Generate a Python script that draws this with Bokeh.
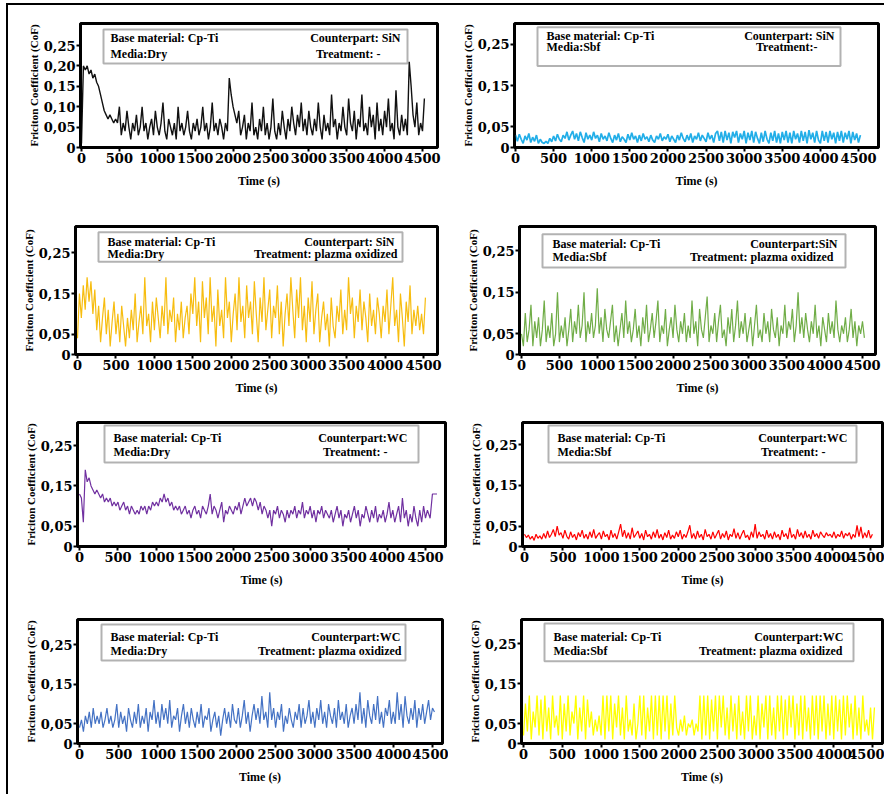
from bokeh.plotting import figure
from bokeh.layouts import column, row
from bokeh.models import FixedTicker, Range1d, BoxAnnotation, Label
from bokeh.embed import file_html
from bokeh.resources import INLINE

# ---------------- data ----------------
TIME_S = list(range(0, 4526, 25))  # sampling times (s), 182 samples

X_TICKS = [0, 500, 1000, 1500, 2000, 2500, 3000, 3500, 4000, 4500]
Y_TICKS_FULL = [0, 0.05, 0.10, 0.15, 0.20, 0.25]
Y_LABELS_FULL = ["0", "0,05", "0,10", "0,15", "0,20", "0,25"]
Y_TICKS_SHORT = [0, 0.05, 0.15, 0.25]
Y_LABELS_SHORT = ["0", "0,05", "0,15", "0,25"]

COF_DRY_SIN = [
    0.01, 0.20, 0.19, 0.20, 0.18, 0.19, 0.17, 0.18, 0.16, 0.15,
    0.13, 0.11, 0.09, 0.08, 0.07, 0.08, 0.07, 0.06, 0.07, 0.06,
    0.10, 0.03, 0.06, 0.04, 0.09, 0.05, 0.02, 0.06, 0.04, 0.08,
    0.03, 0.05, 0.10, 0.04, 0.06, 0.02, 0.05, 0.07, 0.03, 0.09,
    0.05, 0.03, 0.06, 0.11, 0.04, 0.02, 0.07, 0.05, 0.03, 0.06,
    0.02, 0.10, 0.04, 0.06, 0.03, 0.05, 0.09, 0.04, 0.02, 0.06,
    0.04, 0.07, 0.03, 0.05, 0.10, 0.04, 0.06, 0.02, 0.05, 0.11,
    0.04, 0.06, 0.03, 0.07, 0.05, 0.02, 0.06, 0.04, 0.17, 0.13,
    0.10, 0.08, 0.06, 0.09, 0.03, 0.05, 0.08, 0.02, 0.06, 0.04,
    0.11, 0.03, 0.05, 0.02, 0.07, 0.04, 0.10, 0.03, 0.06, 0.02,
    0.05, 0.12, 0.04, 0.02, 0.06, 0.03, 0.09, 0.05, 0.02, 0.07,
    0.04, 0.10, 0.06, 0.03, 0.08, 0.05, 0.11, 0.04, 0.07, 0.03,
    0.09, 0.05, 0.03, 0.07, 0.04, 0.11, 0.05, 0.02, 0.08, 0.04,
    0.06, 0.03, 0.13, 0.05, 0.07, 0.02, 0.06, 0.04, 0.10, 0.05,
    0.03, 0.12, 0.06, 0.04, 0.09, 0.02, 0.07, 0.05, 0.13, 0.04,
    0.06, 0.03, 0.10, 0.05, 0.08, 0.02, 0.11, 0.04, 0.07, 0.03,
    0.09, 0.05, 0.12, 0.04, 0.06, 0.02, 0.14, 0.05, 0.03, 0.08,
    0.04, 0.07, 0.03, 0.21, 0.15, 0.08, 0.05, 0.11, 0.03, 0.06,
    0.04, 0.12]

COF_SBF_SIN = [
    0.030, 0.015, 0.032, 0.020, 0.010, 0.028, 0.018, 0.034, 0.012, 0.025,
    0.015, 0.030, 0.010, 0.020, 0.012, 0.010, 0.015, 0.010, 0.022, 0.014,
    0.028, 0.016, 0.032, 0.020, 0.014, 0.030, 0.022, 0.038, 0.018, 0.030,
    0.040, 0.020, 0.034, 0.016, 0.038, 0.024, 0.012, 0.036, 0.020, 0.030,
    0.018, 0.038, 0.022, 0.030, 0.014, 0.034, 0.020, 0.028, 0.016, 0.036,
    0.022, 0.012, 0.030, 0.018, 0.034, 0.014, 0.026, 0.020, 0.012, 0.032,
    0.018, 0.036, 0.020, 0.028, 0.012, 0.030, 0.016, 0.034, 0.020, 0.026,
    0.014, 0.030, 0.018, 0.012, 0.028, 0.020, 0.034, 0.016, 0.026, 0.020,
    0.032, 0.014, 0.028, 0.020, 0.012, 0.030, 0.018, 0.036, 0.022, 0.014,
    0.030, 0.018, 0.034, 0.012, 0.028, 0.020, 0.036, 0.016, 0.030, 0.022,
    0.014, 0.036, 0.020, 0.030, 0.012, 0.034, 0.040, 0.016, 0.038, 0.012,
    0.040, 0.018, 0.036, 0.010, 0.038, 0.024, 0.040, 0.012, 0.034, 0.020,
    0.040, 0.010, 0.036, 0.018, 0.040, 0.012, 0.038, 0.022, 0.010, 0.036,
    0.014, 0.040, 0.020, 0.010, 0.036, 0.016, 0.040, 0.012, 0.034, 0.010,
    0.038, 0.018, 0.040, 0.012, 0.036, 0.010, 0.040, 0.020, 0.034, 0.012,
    0.040, 0.016, 0.038, 0.010, 0.042, 0.020, 0.036, 0.012, 0.040, 0.018,
    0.010, 0.040, 0.016, 0.038, 0.012, 0.040, 0.020, 0.036, 0.010, 0.038,
    0.016, 0.040, 0.012, 0.036, 0.020, 0.040, 0.010, 0.038, 0.018, 0.034,
    0.012, 0.030]

COF_DRY_SIN_PO = [
    0.04, 0.15, 0.09, 0.17, 0.11, 0.19, 0.13, 0.18, 0.10, 0.16,
    0.06, 0.12, 0.03, 0.09, 0.14, 0.05, 0.11, 0.02, 0.08, 0.13,
    0.05, 0.10, 0.03, 0.12, 0.07, 0.02, 0.09, 0.04, 0.11, 0.06,
    0.15, 0.03, 0.08, 0.12, 0.05, 0.19, 0.07, 0.10, 0.03, 0.13,
    0.06, 0.14, 0.09, 0.04, 0.12, 0.07, 0.19, 0.05, 0.11, 0.08,
    0.14, 0.03, 0.10, 0.06, 0.13, 0.04, 0.09, 0.12, 0.05, 0.15,
    0.10, 0.19, 0.07, 0.13, 0.03, 0.18, 0.09, 0.14, 0.05, 0.19,
    0.08, 0.12, 0.02, 0.16, 0.07, 0.11, 0.04, 0.19, 0.09, 0.13,
    0.03, 0.10, 0.15, 0.06, 0.19, 0.08, 0.12, 0.04, 0.17, 0.09,
    0.13, 0.05, 0.18, 0.10, 0.03, 0.14, 0.08, 0.19, 0.06, 0.11,
    0.16, 0.04, 0.12, 0.09, 0.17, 0.05, 0.13, 0.02, 0.10, 0.15,
    0.07, 0.19, 0.11, 0.04, 0.16, 0.09, 0.19, 0.06, 0.12, 0.03,
    0.14, 0.08, 0.18, 0.05, 0.11, 0.15, 0.03, 0.09, 0.13, 0.06,
    0.10, 0.02, 0.14, 0.07, 0.04, 0.12, 0.08, 0.16, 0.05, 0.11,
    0.06, 0.19, 0.10, 0.14, 0.04, 0.12, 0.08, 0.16, 0.06, 0.13,
    0.09, 0.03, 0.15, 0.07, 0.11, 0.05, 0.14, 0.10, 0.04, 0.12,
    0.08, 0.16, 0.05, 0.12, 0.19, 0.07, 0.11, 0.03, 0.15, 0.09,
    0.02, 0.13, 0.08, 0.17, 0.05, 0.11, 0.07, 0.12, 0.06, 0.10,
    0.05, 0.14]

COF_SBF_SIN_PO = [
    0.05, 0.02, 0.10, 0.03, 0.06, 0.12, 0.02, 0.08, 0.04, 0.09,
    0.02, 0.06, 0.13, 0.03, 0.07, 0.04, 0.10, 0.02, 0.05, 0.15,
    0.03, 0.07, 0.04, 0.09, 0.02, 0.06, 0.11, 0.03, 0.08, 0.05,
    0.12, 0.04, 0.07, 0.15, 0.03, 0.08, 0.05, 0.10, 0.04, 0.07,
    0.16, 0.05, 0.09, 0.03, 0.11, 0.06, 0.04, 0.08, 0.12, 0.03,
    0.07, 0.02, 0.06, 0.10, 0.04, 0.13, 0.05, 0.08, 0.03, 0.06,
    0.11, 0.04, 0.07, 0.02, 0.09, 0.05, 0.12, 0.03, 0.06, 0.10,
    0.04, 0.08, 0.13, 0.03, 0.07, 0.05, 0.11, 0.02, 0.06, 0.09,
    0.04, 0.12, 0.06, 0.03, 0.08, 0.05, 0.10, 0.03, 0.07, 0.04,
    0.13, 0.05, 0.08, 0.02, 0.11, 0.06, 0.04, 0.09, 0.14, 0.03,
    0.07, 0.05, 0.10, 0.03, 0.08, 0.12, 0.04, 0.06, 0.02, 0.09,
    0.05, 0.11, 0.03, 0.07, 0.13, 0.04, 0.08, 0.05, 0.10, 0.03,
    0.06, 0.09, 0.02, 0.07, 0.12, 0.04, 0.06, 0.03, 0.10, 0.05,
    0.08, 0.03, 0.11, 0.06, 0.04, 0.09, 0.02, 0.07, 0.05, 0.12,
    0.04, 0.08, 0.06, 0.11, 0.03, 0.07, 0.15, 0.05, 0.09, 0.04,
    0.10, 0.06, 0.03, 0.08, 0.05, 0.12, 0.04, 0.07, 0.02, 0.09,
    0.06, 0.03, 0.10, 0.05, 0.08, 0.04, 0.13, 0.06, 0.03, 0.07,
    0.05, 0.09, 0.03, 0.06, 0.11, 0.04, 0.08, 0.02, 0.07, 0.05,
    0.08, 0.04]

COF_DRY_WC = [
    0.13, 0.12, 0.06, 0.19, 0.16, 0.17, 0.15, 0.14, 0.13, 0.14,
    0.13, 0.12, 0.13, 0.11, 0.12, 0.11, 0.12, 0.10, 0.11, 0.10,
    0.11, 0.09, 0.10, 0.11, 0.09, 0.10, 0.08, 0.10, 0.09, 0.08,
    0.09, 0.08, 0.10, 0.09, 0.10, 0.08, 0.10, 0.09, 0.11, 0.10,
    0.11, 0.10, 0.12, 0.11, 0.13, 0.11, 0.12, 0.10, 0.11, 0.09,
    0.10, 0.09, 0.10, 0.08, 0.09, 0.10, 0.08, 0.09, 0.07, 0.09,
    0.10, 0.08, 0.09, 0.07, 0.10, 0.09, 0.08, 0.10, 0.13, 0.08,
    0.10, 0.09, 0.07, 0.09, 0.11, 0.06, 0.09, 0.08, 0.10, 0.09,
    0.08, 0.10, 0.09, 0.11, 0.08, 0.10, 0.12, 0.10, 0.11, 0.12,
    0.10, 0.12, 0.11, 0.09, 0.11, 0.08, 0.10, 0.09, 0.07, 0.09,
    0.05, 0.09, 0.08, 0.10, 0.07, 0.09, 0.08, 0.06, 0.09, 0.07,
    0.09, 0.08, 0.10, 0.07, 0.09, 0.08, 0.11, 0.07, 0.09, 0.08,
    0.10, 0.07, 0.09, 0.06, 0.09, 0.08, 0.10, 0.07, 0.09, 0.08,
    0.07, 0.09, 0.06, 0.08, 0.10, 0.07, 0.09, 0.05, 0.08, 0.07,
    0.09, 0.06, 0.08, 0.10, 0.07, 0.09, 0.05, 0.08, 0.07, 0.10,
    0.08, 0.06, 0.09, 0.07, 0.10, 0.06, 0.08, 0.07, 0.09, 0.06,
    0.08, 0.11, 0.07, 0.09, 0.06, 0.08, 0.10, 0.06, 0.12, 0.07,
    0.09, 0.05, 0.08, 0.06, 0.10, 0.07, 0.05, 0.09, 0.06, 0.10,
    0.07, 0.09]
TAIL_TIME_DRY_WC = [4560, 4590, 4650]
TAIL_COF_DRY_WC = [0.07, 0.13, 0.13]

COF_SBF_WC = [
    0.030, 0.022, 0.028, 0.018, 0.025, 0.015, 0.030, 0.020, 0.026, 0.018,
    0.032, 0.020, 0.038, 0.022, 0.030, 0.042, 0.024, 0.050, 0.028, 0.034,
    0.020, 0.040, 0.025, 0.018, 0.036, 0.022, 0.030, 0.016, 0.034, 0.024,
    0.040, 0.020, 0.030, 0.018, 0.036, 0.022, 0.042, 0.020, 0.028, 0.034,
    0.018, 0.038, 0.024, 0.030, 0.016, 0.040, 0.022, 0.032, 0.018, 0.036,
    0.055, 0.024, 0.040, 0.020, 0.034, 0.018, 0.046, 0.022, 0.030, 0.038,
    0.020, 0.032, 0.016, 0.040, 0.024, 0.030, 0.018, 0.036, 0.022, 0.042,
    0.020, 0.030, 0.016, 0.034, 0.022, 0.040, 0.018, 0.028, 0.020, 0.036,
    0.024, 0.040, 0.018, 0.030, 0.022, 0.036, 0.052, 0.020, 0.032, 0.018,
    0.038, 0.022, 0.030, 0.016, 0.042, 0.024, 0.030, 0.018, 0.036, 0.020,
    0.030, 0.040, 0.018, 0.032, 0.022, 0.038, 0.016, 0.030, 0.024, 0.044,
    0.020, 0.034, 0.018, 0.030, 0.040, 0.022, 0.028, 0.016, 0.036, 0.022,
    0.055, 0.020, 0.036, 0.024, 0.030, 0.018, 0.040, 0.022, 0.032, 0.018,
    0.036, 0.022, 0.030, 0.016, 0.040, 0.024, 0.032, 0.018, 0.046, 0.022,
    0.030, 0.018, 0.042, 0.024, 0.034, 0.020, 0.038, 0.022, 0.030, 0.018,
    0.040, 0.024, 0.032, 0.020, 0.036, 0.028, 0.022, 0.034, 0.026, 0.030,
    0.022, 0.036, 0.020, 0.030, 0.024, 0.038, 0.020, 0.032, 0.026, 0.034,
    0.018, 0.030, 0.022, 0.052, 0.024, 0.048, 0.020, 0.034, 0.022, 0.040,
    0.020, 0.030]

COF_DRY_WC_PO = [
    0.04, 0.06, 0.03, 0.07, 0.05, 0.08, 0.04, 0.09, 0.05, 0.07,
    0.05, 0.08, 0.04, 0.06, 0.09, 0.05, 0.07, 0.04, 0.06, 0.10,
    0.04, 0.08, 0.05, 0.07, 0.03, 0.09, 0.06, 0.04, 0.08, 0.05,
    0.10, 0.04, 0.07, 0.05, 0.09, 0.03, 0.08, 0.06, 0.11, 0.05,
    0.08, 0.04, 0.10, 0.06, 0.09, 0.05, 0.11, 0.04, 0.07, 0.06,
    0.09, 0.03, 0.07, 0.10, 0.05, 0.08, 0.04, 0.09, 0.06, 0.04,
    0.08, 0.05, 0.10, 0.04, 0.07, 0.06, 0.09, 0.03, 0.06, 0.08,
    0.04, 0.07, 0.02, 0.06, 0.09, 0.05, 0.08, 0.04, 0.10, 0.06,
    0.05, 0.09, 0.04, 0.07, 0.11, 0.05, 0.08, 0.03, 0.07, 0.10,
    0.06, 0.09, 0.05, 0.12, 0.06, 0.08, 0.04, 0.13, 0.06, 0.09,
    0.04, 0.08, 0.06, 0.10, 0.03, 0.07, 0.05, 0.09, 0.06, 0.04,
    0.08, 0.06, 0.10, 0.04, 0.09, 0.05, 0.07, 0.11, 0.05, 0.08,
    0.04, 0.09, 0.06, 0.11, 0.05, 0.08, 0.04, 0.10, 0.07, 0.05,
    0.09, 0.04, 0.11, 0.06, 0.08, 0.05, 0.10, 0.04, 0.07, 0.09,
    0.05, 0.10, 0.06, 0.13, 0.05, 0.09, 0.04, 0.11, 0.07, 0.05,
    0.10, 0.06, 0.12, 0.05, 0.08, 0.04, 0.09, 0.07, 0.11, 0.05,
    0.08, 0.05, 0.13, 0.06, 0.10, 0.04, 0.12, 0.07, 0.05, 0.09,
    0.06, 0.11, 0.04, 0.09, 0.06, 0.10, 0.05, 0.08, 0.11, 0.06,
    0.09, 0.08]

COF_SBF_WC_PO = [
    0.02, 0.10, 0.03, 0.12, 0.01, 0.08, 0.04, 0.12, 0.02, 0.11,
    0.01, 0.12, 0.03, 0.09, 0.01, 0.12, 0.04, 0.07, 0.02, 0.12,
    0.01, 0.10, 0.03, 0.12, 0.02, 0.08, 0.05, 0.12, 0.01, 0.09,
    0.03, 0.12, 0.01, 0.11, 0.04, 0.08, 0.02, 0.06, 0.03, 0.07,
    0.02, 0.12, 0.01, 0.12, 0.03, 0.12, 0.01, 0.10, 0.04, 0.12,
    0.02, 0.09, 0.01, 0.12, 0.03, 0.06, 0.02, 0.10, 0.01, 0.05,
    0.12, 0.02, 0.12, 0.01, 0.09, 0.03, 0.12, 0.01, 0.12, 0.02,
    0.12, 0.01, 0.12, 0.03, 0.12, 0.01, 0.10, 0.02, 0.12, 0.04,
    0.02, 0.06, 0.03, 0.07, 0.02, 0.05, 0.04, 0.06, 0.02, 0.05,
    0.03, 0.12, 0.01, 0.12, 0.02, 0.12, 0.01, 0.11, 0.03, 0.12,
    0.01, 0.12, 0.04, 0.12, 0.02, 0.09, 0.01, 0.12, 0.03, 0.10,
    0.01, 0.12, 0.02, 0.08, 0.01, 0.12, 0.03, 0.12, 0.01, 0.07,
    0.02, 0.12, 0.01, 0.10, 0.04, 0.12, 0.01, 0.12, 0.02, 0.09,
    0.01, 0.12, 0.03, 0.12, 0.01, 0.11, 0.02, 0.12, 0.04, 0.12,
    0.01, 0.10, 0.02, 0.12, 0.01, 0.12, 0.03, 0.09, 0.01, 0.12,
    0.02, 0.12, 0.01, 0.12, 0.03, 0.12, 0.01, 0.10, 0.02, 0.12,
    0.01, 0.12, 0.03, 0.11, 0.01, 0.12, 0.02, 0.12, 0.04, 0.10,
    0.01, 0.12, 0.02, 0.09, 0.01, 0.12, 0.03, 0.06, 0.02, 0.09,
    0.01, 0.09]

# ---------------- panel layout (page pixels) ----------------
BASE = "Base  material:  Cp-Ti"
PANELS = [
    dict(series=COF_DRY_SIN, time=TIME_S, color="#111111", lw=1.4, full=True,
         fig=(8, 5, 440, 195), frame=(80, 23, 437, 147), xt=(81, 422), yt=(147, 45),
         box=(103, 29, 407, 63), lines=(37, 53), tl=110, tr=(403, 383),
         texts=(BASE, "Counterpart:  SiN", "Media:Dry", "Treatment:  -")),
    dict(series=COF_SBF_SIN, time=TIME_S, color="#22aee8", lw=1.7, full=False,
         fig=(448, 5, 436, 195), frame=(514, 23, 878, 154), xt=(515, 858), yt=(154, 45),
         box=(537, 27, 840, 68), lines=(36, 48), tl=546, tr=(837, 817),
         texts=(BASE, "Counterpart:  SiN", "Media:Sbf", "Treatment:-")),
    dict(series=COF_DRY_SIN_PO, time=TIME_S, color="#f7bd10", lw=1.2, full=False,
         fig=(8, 200, 440, 200), frame=(75, 226, 437, 357), xt=(77, 423), yt=(357, 253),
         box=(98, 232, 402, 262), lines=(242, 254), tl=107, tr=(397, 397),
         texts=(BASE, "Counterpart:  SiN", "Media:Dry", "Treatment: plazma oxidized")),
    dict(series=COF_SBF_SIN_PO, time=TIME_S, color="#70ad47", lw=1.2, full=False,
         fig=(448, 200, 436, 200), frame=(519, 223, 875, 354), xt=(521, 862), yt=(354, 248),
         box=(542, 231, 845, 265), lines=(241, 254), tl=552, tr=(837, 833),
         texts=(BASE, "Counterpart:SiN", "Media:Sbf", "Treatment: plazma oxidized")),
    dict(series=COF_DRY_WC + TAIL_COF_DRY_WC, time=TIME_S + TAIL_TIME_DRY_WC, color="#7030a0", lw=1.2, full=False,
         fig=(8, 400, 440, 200), frame=(77, 422, 445, 546), xt=(79, 425), yt=(546, 445),
         box=(104, 425, 418, 462), lines=(437, 451), tl=113, tr=(407, 387),
         texts=(BASE, "Counterpart:WC", "Media:Dry", "Treatment: -")),
    dict(series=COF_SBF_WC, time=TIME_S, color="#ff0000", lw=1.2, full=False,
         fig=(448, 400, 436, 200), frame=(522, 422, 882, 546), xt=(524, 870), yt=(546, 444),
         box=(548, 425, 856, 462), lines=(437, 451), tl=557, tr=(847, 825),
         texts=(BASE, "Counterpart:WC", "Media:Sbf", "Treatment: -")),
    dict(series=COF_DRY_WC_PO, time=TIME_S, color="#4472c4", lw=1.2, full=False,
         fig=(8, 600, 440, 194), frame=(77, 616, 442, 743), xt=(79, 432), yt=(743, 642),
         box=(101, 621, 405, 658), lines=(634, 648), tl=110, tr=(400, 401),
         texts=(BASE, "Counterpart:WC", "Media:Dry", "Treatment: plazma oxidized")),
    dict(series=COF_SBF_WC_PO, time=TIME_S, color="#ffff00", lw=1.3, full=False,
         fig=(448, 600, 436, 194), frame=(521, 619, 882, 747), xt=(523, 872), yt=(747, 644),
         box=(544, 623, 853, 662), lines=(637, 651), tl=553, tr=(843, 842),
         texts=(BASE, "Counterpart:WC", "Media:Sbf", "Treatment: plazma oxidized")),
]

TICK_FONT = "DejaVu Serif"
TEXT_FONT = "Liberation Serif"


def make_panel(s):
    fx, fy, fw, fh = s["fig"]
    fl, ft, fr, fb = s["frame"]
    p0, p45 = s["xt"]
    py0, py25 = s["yt"]
    sx = 4500.0 / (p45 - p0)
    sy = 0.25 / (py0 - py25)
    dx = lambda px: (px - p0) * sx
    dy = lambda py: (py0 - py) * sy

    p = figure(width=fw, height=fh, output_backend="svg", toolbar_location=None,
               x_range=Range1d(dx(fl), dx(fr)), y_range=Range1d(dy(fb), dy(ft)),
               min_border_left=fl - fx, min_border_right=fx + fw - fr,
               min_border_top=ft - fy, min_border_bottom=fy + fh - fb)
    p.background_fill_color = "white"
    p.border_fill_color = "white"
    p.outline_line_color = "black"
    p.outline_line_width = 3
    p.xgrid.visible = False
    p.ygrid.visible = False

    p.line(s["time"], s["series"], line_color=s["color"], line_width=s["lw"])

    yt = Y_TICKS_FULL if s["full"] else Y_TICKS_SHORT
    yl = Y_LABELS_FULL if s["full"] else Y_LABELS_SHORT
    p.yaxis.ticker = FixedTicker(ticks=yt)
    p.yaxis.major_label_overrides = {t: l for t, l in zip(yt, yl)}
    p.xaxis.ticker = FixedTicker(ticks=X_TICKS)
    p.xaxis.major_label_overrides = {t: str(t) for t in X_TICKS}

    for ax in (p.xaxis[0], p.yaxis[0]):
        ax.axis_line_width = 2.5
        ax.axis_line_color = "black"
        ax.major_tick_line_width = 2
        ax.major_tick_line_color = "black"
        ax.major_tick_out = 4
        ax.major_tick_in = 0
        ax.minor_tick_line_color = None
        ax.major_label_text_font = TICK_FONT
        ax.major_label_text_font_style = "bold"
        ax.major_label_text_font_size = "13px"
        ax.major_label_text_color = "black"
        ax.major_label_standoff = 1
        ax.axis_label_text_font = TEXT_FONT
        ax.axis_label_text_font_style = "bold"
        ax.axis_label_text_color = "black"
    p.xaxis.axis_label = "Time (s)"
    p.xaxis.axis_label_text_font_size = "12px"
    p.xaxis.axis_label_standoff = 8
    p.yaxis.axis_label = "Friciton Coefficient (CoF)"
    p.yaxis.axis_label_text_font_size = "11px"
    p.yaxis.axis_label_standoff = 1

    bl, bt, br, bb = s["box"]
    p.add_layout(BoxAnnotation(left=dx(bl), right=dx(br), top=dy(bt), bottom=dy(bb),
                               fill_color=None, line_color="black", line_width=2))
    t_base, t_cp, t_media, t_treat = s["texts"]
    l1, l2 = s["lines"]
    r1, r2 = s["tr"]
    for txt, px, py, align in ((t_base, s["tl"], l1, "left"), (t_media, s["tl"], l2, "left"),
                               (t_cp, r1, l1, "right"), (t_treat, r2, l2, "right")):
        p.add_layout(Label(x=dx(px), y=dy(py), text=txt, text_align=align,
                           text_baseline="middle", text_font=TEXT_FONT,
                           text_font_style="bold", text_font_size="12px",
                           text_color="black"))
    return p


figs = [make_panel(s) for s in PANELS]
layout = column(
    row(figs[0], figs[1]),
    row(figs[2], figs[3]),
    row(figs[4], figs[5]),
    row(figs[6], figs[7]),
    styles={"border-top": "2px solid black", "border-left": "2px solid black",
            "margin-left": "6px", "margin-top": "3px"},
)

open("out.html", "w").write(file_html(layout, INLINE))
